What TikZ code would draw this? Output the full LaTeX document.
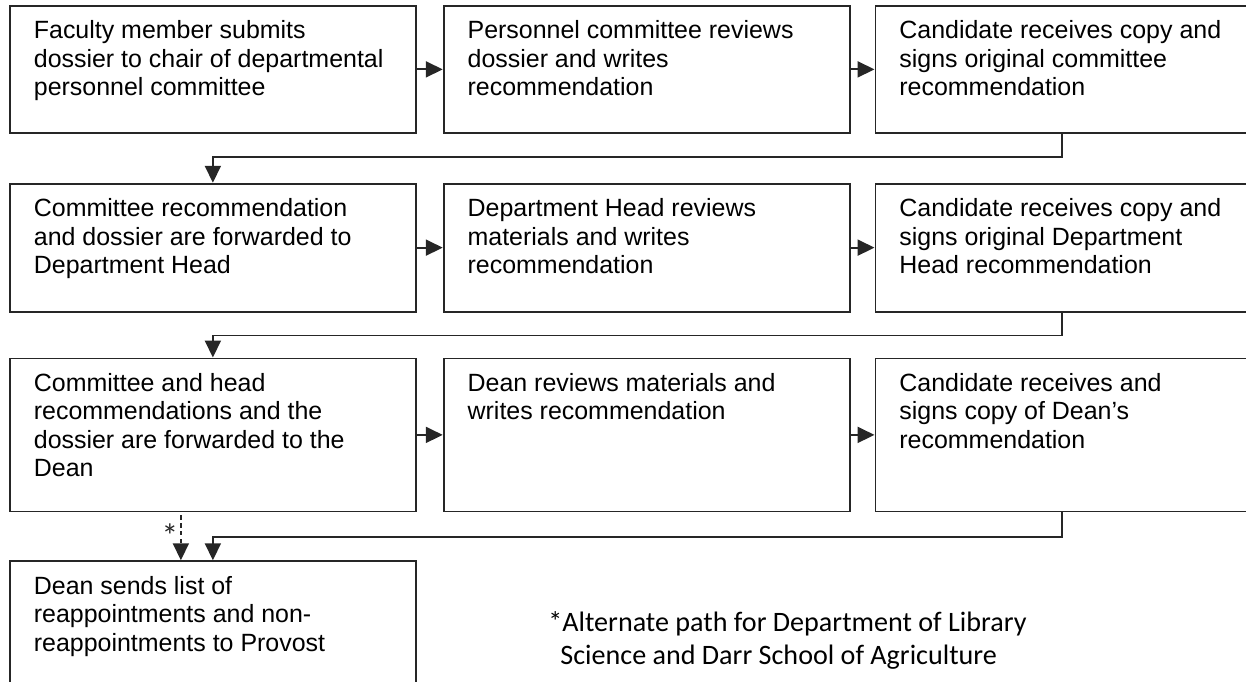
\documentclass[tikz,border=0pt]{standalone}
\usepackage{fontspec}
\setmainfont{Liberation Sans}
\newfontfamily\notefont{Carlito}
\usetikzlibrary{arrows.meta, positioning}

% contenido de cada caja: alto, ancho, texto (arriba a la izquierda)
\newcommand{\boxtext}[3]{%
    \parbox[c][\dimexpr#1-0.52cm\relax][t]{\dimexpr#2-0.96cm\relax}{\raggedright\strut\ignorespaces#3}}

\begin{document}
\begin{tikzpicture}[
    font=\fontsize{14.2}{16.2}\selectfont,
    % Estilo de las cajas del proceso
    stepbox/.style={
        draw=black!85,
        line width=1pt,
        inner xsep=0.48cm,
        inner ysep=0.26cm
    },
    % Estilo para flechas
    arrow/.style={
        -{Triangle[length=0.34cm, width=0.32cm]},
        line width=1.1pt,
        black!85
    },
    % Ruta alternativa (punteada)
    altpath/.style={
        arrow,
        dash pattern=on 2.5pt off 2pt
    }
]
    \clip (0,0) rectangle (24.92,-13.62);

    % --- 1. Primera fila: comite de personal ---
    \node[stepbox, anchor=north west] (r1c1) at (0.18,-0.10) {\boxtext{2.54cm}{8.12cm}{
        Faculty member submits\\
        dossier to chair of departmental\\
        personnel committee}};
    \node[stepbox, right=0.52cm of r1c1] (r1c2) {\boxtext{2.54cm}{8.12cm}{
        Personnel committee reviews\\
        dossier and writes\\
        recommendation}};
    \node[stepbox, right=0.48cm of r1c2] (r1c3) {\boxtext{2.54cm}{7.48cm}{
        Candidate receives copy and\\
        signs original committee\\
        recommendation}};

    \draw[arrow] (r1c1) -- (r1c2);
    \draw[arrow] (r1c2) -- (r1c3);

    % --- 2. Segunda fila: jefe de departamento ---
    \node[stepbox, below=0.98cm of r1c1] (r2c1) {\boxtext{2.56cm}{8.12cm}{
        Committee recommendation\\
        and dossier are forwarded to\\
        Department Head}};
    \node[stepbox, right=0.52cm of r2c1] (r2c2) {\boxtext{2.56cm}{8.12cm}{
        Department Head reviews\\
        materials and writes\\
        recommendation}};
    \node[stepbox, right=0.48cm of r2c2] (r2c3) {\boxtext{2.56cm}{7.48cm}{
        Candidate receives copy and\\
        signs original Department\\
        Head recommendation}};

    \draw[arrow] (r1c3.south) -- ++(0,-0.46) -| (r2c1.north);
    \draw[arrow] (r2c1) -- (r2c2);
    \draw[arrow] (r2c2) -- (r2c3);

    % --- 3. Tercera fila: decano ---
    \node[stepbox, below=0.90cm of r2c1] (r3c1) {\boxtext{3.06cm}{8.12cm}{
        Committee and head\\
        recommendations and the\\
        dossier are forwarded to the\\
        Dean}};
    \node[stepbox, right=0.52cm of r3c1] (r3c2) {\boxtext{3.06cm}{8.12cm}{
        Dean reviews materials and\\
        writes recommendation}};
    \node[stepbox, right=0.48cm of r3c2] (r3c3) {\boxtext{3.06cm}{7.48cm}{
        Candidate receives and\\
        signs copy of Dean's\\
        recommendation}};

    \draw[arrow] (r2c3.south) -- ++(0,-0.46) -| (r3c1.north);
    \draw[arrow] (r3c1) -- (r3c2);
    \draw[arrow] (r3c2) -- (r3c3);

    % --- 4. Envio al rector ---
    \node[stepbox, below=0.96cm of r3c1] (r4c1) {\boxtext{2.90cm}{8.12cm}{
        Dean sends list of\\
        reappointments and non-\\
        reappointments to Provost}};

    \draw[arrow] (r3c3.south) -- ++(0,-0.50) -| (r4c1.north);
    \draw[altpath] ([xshift=-0.64cm, yshift=-0.06cm]r3c1.south) --
        node[left, pos=0.45, inner sep=1pt, font=\notefont\fontsize{19}{20}\selectfont] (star) {*}
        ([xshift=-0.64cm]r4c1.north);

    % Nota al pie
    \node[anchor=north west, align=left, inner sep=0pt,
          font=\notefont\fontsize{16}{18.8}\selectfont] (note) at (10.96,-12.22) {
        *Alternate path for Department of Library\\
        \hspace*{0.24cm}Science and Darr School of Agriculture};

\end{tikzpicture}
\end{document}
